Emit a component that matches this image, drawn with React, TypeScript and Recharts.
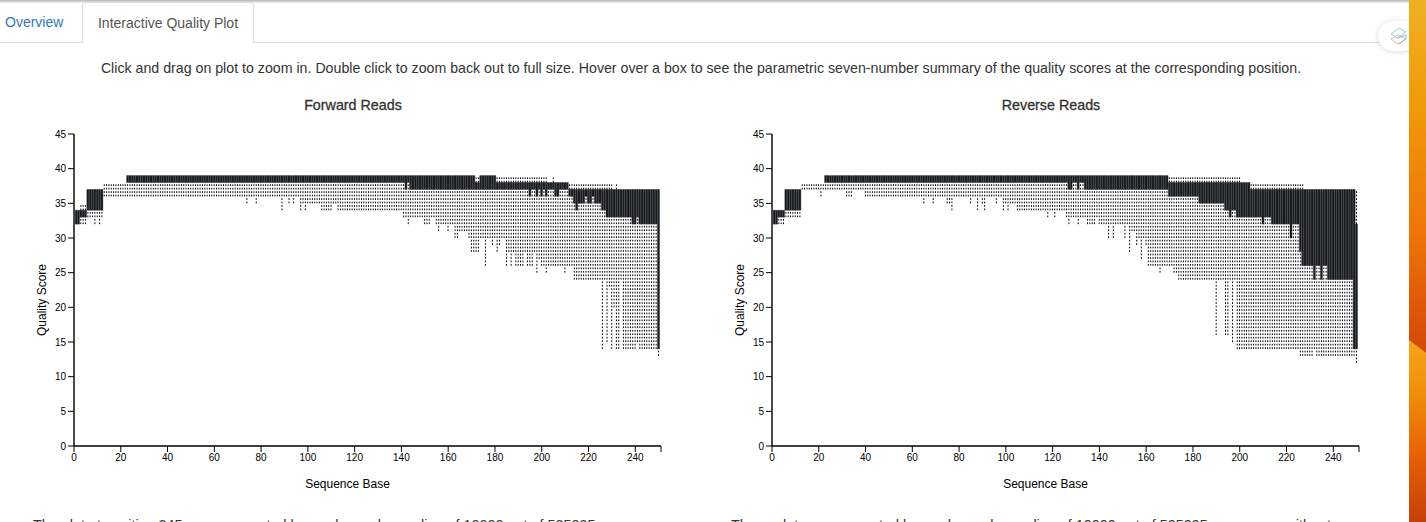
import React from "react";
import { ComposedChart, Bar, XAxis, YAxis } from "recharts";

// values per sequence position 1..250 (25 positions a row)
const forwardLow = [
  32,32,32,32,32,33,33,33,32,33,32,33,36,36,36,36,36,36,36,36,36,36,36,36,36,
  36,36,36,36,36,36,36,36,36,36,36,36,36,36,36,36,36,36,36,36,36,36,36,36,36,
  36,36,36,36,36,36,36,36,36,36,36,36,36,36,36,36,36,36,36,36,36,36,36,35,36,
  36,36,35,36,36,36,36,36,36,36,36,36,36,34,36,36,35,36,35,36,36,34,35,34,35,
  35,35,35,35,35,34,34,34,34,34,35,35,34,34,34,34,34,34,34,34,34,34,34,34,34,
  34,34,34,34,34,34,34,34,34,34,34,34,34,34,34,33,33,32,33,33,33,33,33,33,32,
  32,32,33,33,32,31,32,32,32,31,32,32,30,30,31,31,31,31,30,28,28,28,28,30,30,
  26,30,30,29,30,28,29,30,30,26,28,26,28,26,26,26,26,28,26,26,26,28,25,27,26,
  26,25,26,26,26,26,26,26,26,25,26,26,26,24,24,24,24,24,24,24,24,24,24,24,24,
  14,24,15,23,14,20,14,14,24,14,14,14,14,14,14,15,14,14,14,14,14,14,14,14,13,
];
const forwardQ1 = [
  32,32,33,33,33,34,34,34,34,34,34,34,38,38,38,38,38,38,38,38,38,38,38,38,38,
  38,38,38,38,38,38,38,38,38,38,38,38,38,38,38,38,38,38,38,38,38,38,38,38,38,
  38,38,38,38,38,38,38,38,38,38,38,38,38,38,38,38,38,38,38,38,38,38,38,38,38,
  38,38,38,38,38,38,38,38,38,38,38,38,38,38,38,38,38,38,38,38,38,38,38,38,38,
  38,38,38,38,38,38,38,38,38,38,38,38,38,38,38,38,38,38,38,38,38,38,38,38,38,
  38,38,38,38,38,38,38,38,38,38,38,38,38,38,38,38,37,38,37,37,37,37,37,37,37,
  37,37,37,37,37,37,37,37,37,37,37,37,37,37,37,37,37,37,37,37,37,37,37,37,37,
  37,37,37,37,37,37,37,37,37,37,37,37,37,37,37,37,37,37,37,36,37,37,36,37,36,
  37,36,37,37,37,36,36,37,37,37,37,36,36,35,34,35,35,35,36,35,35,36,35,35,35,
  34,34,33,33,33,33,33,33,33,33,33,33,33,32,32,33,32,32,32,32,32,32,32,32,14,
];
const forwardQ3 = [
  34,34,34,34,34,37,37,37,37,37,37,37,38,38,38,38,38,38,38,38,38,38,39,39,39,
  39,39,39,39,39,39,39,39,39,39,39,39,39,39,39,39,39,39,39,39,39,39,39,39,39,
  39,39,39,39,39,39,39,39,39,39,39,39,39,39,39,39,39,39,39,39,39,39,39,39,39,
  39,39,39,39,39,39,39,39,39,39,39,39,39,39,39,39,39,39,39,39,39,39,39,39,39,
  39,39,39,39,39,39,39,39,39,39,39,39,39,39,39,39,39,39,39,39,39,39,39,39,39,
  39,39,39,39,39,39,39,39,39,39,39,39,39,39,39,39,39,39,39,39,39,39,39,39,39,
  39,39,39,39,39,39,39,39,39,39,39,39,39,39,39,39,39,39,39,39,39,38,38,39,39,
  39,39,39,39,39,38,38,38,38,38,38,38,38,38,38,38,38,38,38,38,38,38,38,38,38,
  38,38,38,38,38,38,38,38,38,38,38,37,37,37,37,37,37,37,37,37,37,37,37,37,37,
  37,37,37,37,37,37,37,37,37,37,37,37,37,37,37,37,37,37,37,37,37,37,37,37,37,
];
const forwardHigh = [
  34,34,35,35,35,37,37,37,37,37,37,37,38,38,38,38,38,38,38,38,38,38,39,39,39,
  39,39,39,39,39,39,39,39,39,39,39,39,39,39,39,39,39,39,39,39,39,39,39,39,39,
  39,39,39,39,39,39,39,39,39,39,39,39,39,39,39,39,39,39,39,39,39,39,39,39,39,
  39,39,39,39,39,39,39,39,39,39,39,39,39,39,39,39,39,39,39,39,39,39,39,39,39,
  39,39,39,39,39,39,39,39,39,39,39,39,39,39,39,39,39,39,39,39,39,39,39,39,39,
  39,39,39,39,39,39,39,39,39,39,39,39,39,39,39,39,39,39,39,39,39,39,39,39,39,
  39,39,39,39,39,39,39,39,39,39,39,39,39,39,39,39,39,39,39,39,39,39,39,39,39,
  39,39,39,39,39,39,39,39,39,39,39,39,39,39,39,39,39,39,39,39,39,39,39,39,39,
  39,39,38,38,39,38,38,38,38,38,38,38,38,38,38,38,38,38,38,38,38,38,38,38,38,
  38,38,38,38,38,37,38,37,37,37,37,37,37,37,37,37,37,37,37,37,37,37,37,37,37,
];

const reverseLow = [
  32,32,32,32,32,33,33,33,33,33,33,33,37,37,37,37,37,37,37,37,36,37,37,37,37,
  37,37,37,37,37,37,36,36,36,37,37,37,37,37,36,36,36,36,36,36,36,36,36,36,36,
  36,36,36,36,36,36,36,36,36,36,36,36,36,36,35,36,36,36,35,36,36,36,36,36,35,
  35,34,36,36,36,36,36,36,36,35,36,36,34,36,35,34,36,36,36,36,35,36,36,34,35,
  34,35,35,35,34,34,34,34,34,34,34,34,34,34,34,34,34,33,34,34,33,34,34,34,34,
  33,32,33,33,33,32,33,33,33,32,32,32,32,33,32,32,32,32,30,32,30,32,32,32,32,
  30,32,28,31,31,29,30,27,30,29,26,26,26,26,26,25,26,26,26,26,26,25,25,24,24,
  24,24,24,24,24,24,24,24,24,24,24,24,24,24,16,24,24,24,16,16,24,15,24,14,14,
  14,14,14,14,14,14,14,14,14,14,14,14,14,14,14,14,14,14,14,14,14,14,14,14,14,
  13,13,13,13,13,13,14,13,13,13,13,13,13,13,13,13,13,13,13,13,13,13,13,13,12,
];
const reverseQ1 = [
  32,32,33,33,33,34,34,34,34,34,34,34,38,38,38,38,38,38,38,38,38,38,38,38,38,
  38,38,38,38,38,38,38,38,38,38,38,38,38,38,38,38,38,38,38,38,38,38,38,38,38,
  38,38,38,38,38,38,38,38,38,38,38,38,38,38,38,38,38,38,38,38,38,38,38,38,38,
  38,38,38,38,38,38,38,38,38,38,38,38,38,38,38,38,38,38,38,38,38,38,38,38,38,
  38,38,38,38,38,38,38,38,38,38,38,38,38,38,38,38,38,38,38,38,38,38,38,38,38,
  38,37,37,38,38,37,38,38,37,37,37,37,37,37,37,37,37,37,37,37,37,37,37,37,37,
  37,37,37,37,37,37,37,37,37,37,37,37,37,37,37,37,37,37,37,36,36,36,36,36,36,
  36,36,36,36,36,36,36,35,35,35,35,35,35,35,35,35,35,35,34,34,33,34,34,33,33,
  33,33,33,33,33,33,33,33,33,32,33,33,33,32,32,32,32,32,32,32,32,30,32,32,32,
  28,26,26,26,26,26,24,26,26,24,26,26,24,24,24,24,24,24,24,24,24,24,24,14,14,
];
const reverseQ3 = [
  34,34,34,34,34,37,37,37,37,37,37,37,38,38,38,38,38,38,38,38,38,38,39,39,39,
  39,39,39,39,39,39,39,39,39,39,39,39,39,39,39,39,39,39,39,39,39,39,39,39,39,
  39,39,39,39,39,39,39,39,39,39,39,39,39,39,39,39,39,39,39,39,39,39,39,39,39,
  39,39,39,39,39,39,39,39,39,39,39,39,39,39,39,39,39,39,39,39,39,39,39,39,39,
  39,39,39,39,39,39,39,39,39,39,39,39,39,39,39,39,39,39,39,39,39,39,39,39,39,
  39,39,39,39,39,39,39,39,39,39,39,39,39,39,39,39,39,39,39,39,39,39,39,39,39,
  39,39,39,39,39,39,39,39,39,39,39,39,39,39,39,39,39,39,39,38,38,38,38,38,38,
  38,38,38,38,38,38,38,38,38,38,38,38,38,38,38,38,38,38,38,38,38,38,38,38,38,
  38,38,38,38,37,37,37,37,37,37,37,37,37,37,37,37,37,37,37,37,37,37,37,37,37,
  37,37,37,37,37,37,37,37,37,37,37,37,37,37,37,37,37,37,37,37,37,37,37,37,32,
];
const reverseHigh = [
  34,34,34,34,34,37,37,37,37,37,37,37,38,38,38,38,38,38,38,38,38,38,39,39,39,
  39,39,39,39,39,39,39,39,39,39,39,39,39,39,39,39,39,39,39,39,39,39,39,39,39,
  39,39,39,39,39,39,39,39,39,39,39,39,39,39,39,39,39,39,39,39,39,39,39,39,39,
  39,39,39,39,39,39,39,39,39,39,39,39,39,39,39,39,39,39,39,39,39,39,39,39,39,
  39,39,39,39,39,39,39,39,39,39,39,39,39,39,39,39,39,39,39,39,39,39,39,39,39,
  39,39,39,39,39,39,39,39,39,39,39,39,39,39,39,39,39,39,39,39,39,39,39,39,39,
  39,39,39,39,39,39,39,39,39,39,39,39,39,39,39,39,39,39,39,39,39,39,39,39,39,
  39,39,39,39,39,39,39,39,39,39,39,39,39,39,39,39,39,39,39,39,39,39,39,39,39,
  38,38,38,38,38,38,38,38,38,38,38,38,38,38,38,38,38,38,38,38,38,38,38,38,38,
  38,38,37,37,37,37,37,37,37,37,37,37,37,37,37,37,37,37,37,37,37,37,37,37,37,
];

const xTicks = [0, 20, 40, 60, 80, 100, 120, 140, 160, 180, 200, 220, 240, 251];
const yTicks = [0, 5, 10, 15, 20, 25, 30, 35, 40, 45];

const FONT = '"Liberation Sans", Arial, sans-serif';

// dotted whisker, the dash period is half a quality unit so the rows line up
const Whisker = (props: any) => {
  const { x, y, width, height } = props;
  if (!height) return null;
  const cx = x + width / 2;
  return (
    <line
      x1={cx}
      x2={cx}
      y1={y + height}
      y2={y}
      stroke="#000"
      strokeWidth={1}
      strokeDasharray="1.7 1.767"
    />
  );
};

interface PlotProps {
  title: string;
  left: number;
  low: number[];
  q1: number[];
  q3: number[];
  high: number[];
}

function QualityPlot({ title, left, low, q1, q3, high }: PlotProps) {
  const table = low.map((v, i) => ({
    position: i + 1,
    base: v,
    lower: q1[i] - v,
    box: q3[i] - q1[i],
    upper: high[i] - q3[i],
  }));

  return (
    <div style={{ position: "absolute", left, top: 90, width: 680, height: 410 }}>
      <div
        style={{
          position: "absolute",
          left: 0,
          right: 0,
          top: 7,
          textAlign: "center",
          fontSize: 14.3,
          fontWeight: 500,
          color: "#333",
          WebkitTextStroke: "0.3px #333",
          paddingLeft: 26,
        }}
      >
        {title}
      </div>
      <ComposedChart
        width={680}
        height={410}
        data={table}
        barSize={2}
        margin={{ top: 44, right: 19, bottom: 0, left: 34 }}
      >
        <XAxis
          dataKey="position"
          type="number"
          domain={[0, 251]}
          ticks={xTicks}
          interval={0}
          height={54}
          allowDataOverflow
          tickSize={6}
          tickLine={{ stroke: "#000" }}
          axisLine={{ stroke: "#000", strokeWidth: 1.4 }}
          tick={{ fontSize: 10, fill: "#000", fontFamily: FONT }}
          tickFormatter={(v: number) => (v === 251 ? "" : String(v))}
          label={{
            value: "Sequence Base",
            position: "insideBottom",
            offset: 12,
            dx: -20,
            fontSize: 12,
            fill: "#000",
            fontFamily: FONT,
          }}
        />
        <YAxis
          type="number"
          domain={[0, 45]}
          ticks={yTicks}
          interval={0}
          width={40}
          tickSize={6}
          tickLine={{ stroke: "#000" }}
          axisLine={{ stroke: "#000", strokeWidth: 1.4 }}
          tick={{ fontSize: 10, fill: "#000", fontFamily: FONT }}
          label={{
            value: "Quality Score",
            angle: -90,
            position: "insideLeft",
            offset: 8,
            dy: 10,
            fontSize: 12,
            fill: "#000",
            fontFamily: FONT,
            style: { textAnchor: "middle" },
          }}
        />
        <Bar dataKey="base" stackId="q" fill="none" isAnimationActive={false} />
        <Bar dataKey="lower" stackId="q" shape={<Whisker />} isAnimationActive={false} />
        <Bar
          dataKey="box"
          stackId="q"
          fill="#171d20"
          stroke="#171d20"
          strokeWidth={0.4}
          isAnimationActive={false}
        />
        <Bar dataKey="upper" stackId="q" shape={<Whisker />} isAnimationActive={false} />
      </ComposedChart>
    </div>
  );
}

export default function App() {
  return (
    <div
      style={{
        position: "absolute",
        left: 0,
        top: 0,
        width: 1426,
        height: 522,
        overflow: "hidden",
        background: "#fff",
        fontFamily: FONT,
        color: "#333",
      }}
    >
      {/* window shadow along the top */}
      <div
        style={{
          position: "absolute",
          left: 0,
          top: 0,
          width: 1426,
          height: 3,
          background: "linear-gradient(#b4b4b4, #f4f4f4)",
        }}
      />

      {/* tabs */}
      <div style={{ position: "absolute", left: 0, top: 42, width: 1409, height: 1, background: "#ddd" }} />
      <div style={{ position: "absolute", left: 5, top: 14, fontSize: 14, color: "#337ab7" }}>Overview</div>
      <div
        style={{
          position: "absolute",
          left: 82,
          top: 2,
          width: 170,
          height: 40,
          border: "1px solid #ddd",
          borderBottom: "1px solid #fff",
          borderRadius: "4px 4px 0 0",
          background: "#fff",
          fontSize: 14,
          color: "#555",
          lineHeight: "40px",
          textAlign: "center",
        }}
      >
        Interactive Quality Plot
      </div>

      <div
        style={{
          position: "absolute",
          left: 0,
          width: 1402,
          top: 60,
          textAlign: "center",
          fontSize: 14.2,
          whiteSpace: "nowrap",
        }}
      >
        Click and drag on plot to zoom in. Double click to zoom back out to full size. Hover over a box to see the
        parametric seven-number summary of the quality scores at the corresponding position.
      </div>

      <QualityPlot title="Forward Reads" left={0} low={forwardLow} q1={forwardQ1} q3={forwardQ3} high={forwardHigh} />
      <QualityPlot title="Reverse Reads" left={698} low={reverseLow} q1={reverseQ1} q3={reverseQ3} high={reverseHigh} />

      {/* cut-off captions under the plots */}
      <div style={{ position: "absolute", left: 33, top: 517, fontSize: 14.4, whiteSpace: "nowrap", color: "#333" }}>
        The plot at position 245 were generated by random subsampling of 10000 out of 535395
      </div>
      <div style={{ position: "absolute", left: 731, top: 517, fontSize: 14.4, whiteSpace: "nowrap", color: "#333" }}>
        These plots are generated by random subsampling of 10000 out of 535395 sequences without
      </div>

      {/* desktop wallpaper at the right edge */}
      <div
        style={{
          position: "absolute",
          left: 1409,
          top: 0,
          width: 17,
          height: 522,
          background: "linear-gradient(#efb024 0%, #f09a08 20%, #ee7406 45%, #d64a0a 66%, #c8430a 100%)",
        }}
      />
      <div
        style={{
          position: "absolute",
          left: 1409,
          top: 340,
          width: 17,
          height: 182,
          clipPath: "polygon(0 0, 100% 7%, 100% 100%, 0 100%)",
          background: "linear-gradient(#f7a51c 0%, #f08d08 30%, #e65f06 65%, #c4400a 100%)",
        }}
      />

      {/* browser extension widget */}
      <div
        style={{
          position: "absolute",
          left: 1378,
          top: 21,
          width: 40,
          height: 30,
          borderRadius: 15,
          background: "#fff",
          boxShadow: "0 1px 6px rgba(0,0,0,0.14)",
          clipPath: "inset(-8px 9px -8px -8px)",
        }}
      >
        <svg width={22} height={22} style={{ position: "absolute", left: 10, top: 5 }}>
          <path d="M3 8 L11 2 L18 6 L10 12 Z" fill="none" stroke="#8cc9d0" strokeWidth={0.9} />
          <path d="M3 13 L10 9 L18 13 L10 18 Z" fill="none" stroke="#e6a58c" strokeWidth={0.9} />
          <path d="M10 12 L18 9 L18 13 L11 18" fill="none" stroke="#7fbfdc" strokeWidth={0.9} />
        </svg>
      </div>
    </div>
  );
}
